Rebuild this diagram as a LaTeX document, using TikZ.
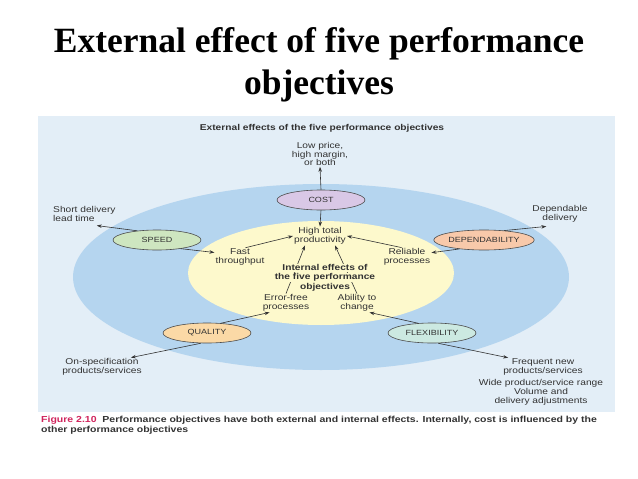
\documentclass[tikz,border=0pt]{standalone}
\usepackage{fontspec}
\setmainfont{Liberation Serif}
\newfontfamily\figfont[FakeStretch=1.2]{Liberation Sans}
\usetikzlibrary{shapes.geometric, arrows.meta, positioning, calc}
\definecolor{panelcolor}{RGB}{227,238,247}
\definecolor{outercolor}{RGB}{181,213,239}
\definecolor{innercolor}{RGB}{253,249,204}
\definecolor{costcolor}{RGB}{217,200,230}
\definecolor{speedcolor}{RGB}{206,230,192}
\definecolor{dependcolor}{RGB}{248,201,170}
\definecolor{qualitycolor}{RGB}{251,217,166}
\definecolor{flexcolor}{RGB}{204,233,225}
\definecolor{figurecolor}{RGB}{208,36,92}
\definecolor{textgray}{RGB}{50,50,50}
\newcommand{\inhl}[1]{{\setlength{\fboxsep}{0.6pt}\colorbox{innercolor}{#1}}}

\begin{document}
\begin{tikzpicture}[
    x=1pt, y=-1pt,
    every node/.style={font=\figfont\fontsize{8.5}{8.5}\selectfont, text=textgray, align=center, inner sep=1pt},
    objective/.style={ellipse, draw=black!70, line width=0.6pt, minimum width=88pt, minimum height=20pt,
                      inner sep=0pt, font=\figfont\fontsize{7.5}{7.5}\selectfont},
    effect/.style={-{Stealth[length=5pt,width=3.5pt]}, line width=0.6pt, draw=black!80}
]
\useasboundingbox (0,0) rectangle (638,479);
\node[font=\bfseries\fontsize{35.5}{42}\selectfont, text=black, anchor=base] (title) at (319,94)
    {External effect of five performance\\objectives};

% panel and the two rings
\fill[panelcolor] (38,116) rectangle (615,412);
\fill[outercolor] (321,277) ellipse [x radius=248, y radius=93];
\fill[innercolor] (321,273) ellipse [x radius=133, y radius=52];

\node[font=\figfont\bfseries\fontsize{8.5}{8.5}\selectfont] (paneltitle) at (322,128)
    {External effects of the five performance objectives};

\node[objective, fill=costcolor] (cost) at (321,200) {COST};
\node[objective, fill=speedcolor] (speed) at (157,240) {SPEED};
\node[objective, fill=dependcolor, minimum width=92pt] (dependability) at (484,240) {DEPENDABILITY};
\node[objective, fill=qualitycolor] (quality) at (207,333) {QUALITY};
\node[objective, fill=flexcolor] (flexibility) at (432,333) {FLEXIBILITY};

% external effects
\node (lowprice) at (320,154) {Low price,\\high margin,\\or both};
\node[anchor=west, align=left] (shortlead) at (52,214) {Short delivery\\lead time};
\node (dependable) at (560,214) {Dependable\\delivery};
\node (onspec) at (102,367) {On-specification\\products/services};
\node (frequent) at (543,367) {Frequent new\\products/services};
\node (widerange) at (541,383) {Wide product/service range};
\node (volume) at (541,397) {Volume and\\delivery adjustments};

% internal effects
\node (hightotal) at (320,236) {High total\\productivity};
\node (fast) at (240,257) {Fast\\throughput};
\node (reliable) at (407,257) {Reliable\\processes};
\node (errorfree) at (286,303) {Error-free\\processes};
\node (ability) at (357,303) {Ability to\\change};

\draw[effect] (cost.north) -- (lowprice.south);
\draw[effect] (cost.south) -- (hightotal.north);
\draw[effect] (speed.155) -- ([xshift=-20pt,yshift=-3pt]shortlead.south east);
\draw[effect] (dependability.25) -- ([xshift=15pt,yshift=-3pt]dependable.south west);
\draw[effect] (speed.-20) -- (fast.170);
\draw[effect] (fast.60) -- (hightotal.west);
\draw[effect] (dependability.200) -- (reliable.10);
\draw[effect] (reliable.120) -- (hightotal.east);
\draw[effect] (errorfree.north) -- ([xshift=12pt]hightotal.south west);
\draw[effect] (ability.north) -- ([xshift=-12pt]hightotal.south east);
\draw[effect] (quality.35) -- ([xshift=8pt]errorfree.south west);
\draw[effect] (flexibility.145) -- ([xshift=-8pt]ability.south east);
\draw[effect] (quality.-120) -- ([xshift=-12pt]onspec.north east);
\draw[effect] (flexibility.-60) -- ([xshift=6pt]frequent.north west);

\node[font=\figfont\bfseries\fontsize{8.5}{8.5}\selectfont] (internal) at (325,278)
    {\inhl{Internal effects of}\\\inhl{the five performance}\\\inhl{objectives}};

\node[anchor=north west, align=left, font=\figfont\bfseries\fontsize{8.75}{9.5}\selectfont] (caption) at (40,415)
    {\textcolor{figurecolor}{Figure 2.10}\ \ Performance objectives have both external and internal effects. Internally, cost is influenced by the\\other performance objectives};
\end{tikzpicture}
\end{document}
